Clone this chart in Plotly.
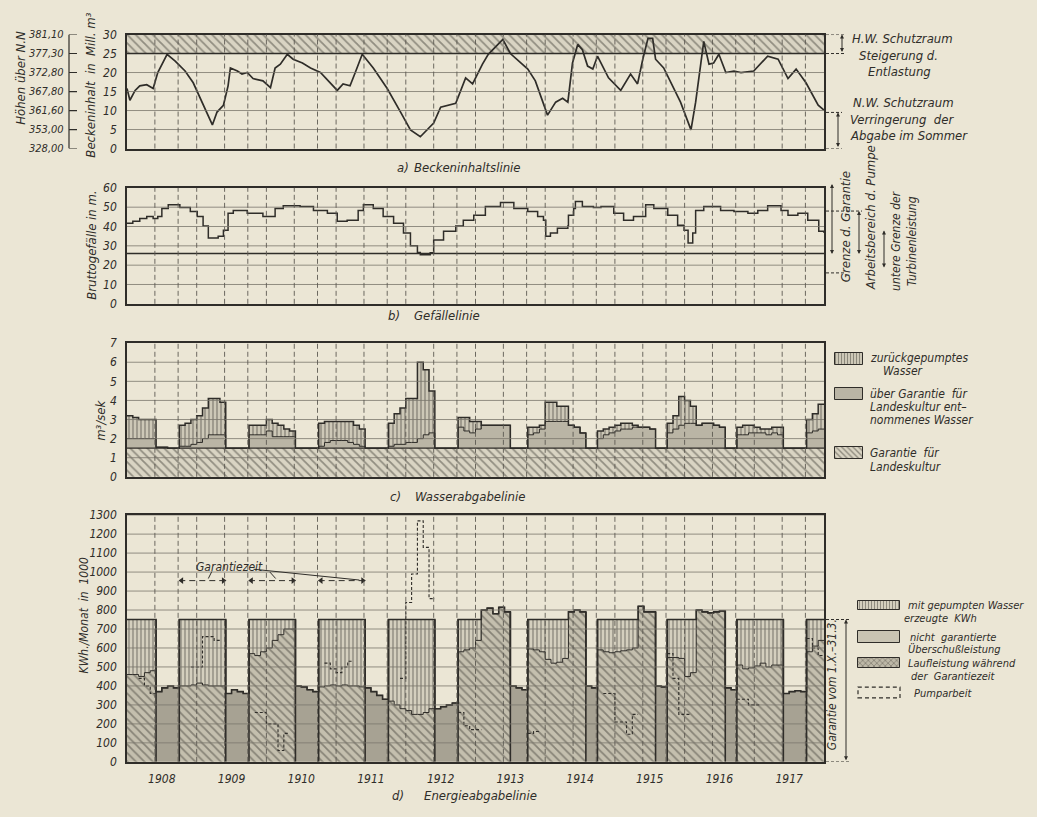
import plotly.graph_objects as go

W, H = 1037, 817
PAPER = "#ebe6d5"
INK = "#2f2d29"
GRID = "#7a766c"
FILL_GRAU = "#bab5a5"
FILL_DUNKEL = "#a7a293"
FILL_HELL = "#d9d4c3"
FAM = "DejaVu Sans Condensed"


def fnt(size=12, color=INK):
    return dict(family=FAM, size=size, color=color, style="italic")


def px(x):
    return x / W


def py(y):
    return 1 - y / H


# ---------------- Zeitachse ----------------
jahre = ["1908", "1909", "1910", "1911", "1912", "1913", "1914", "1915", "1916", "1917"]
jahr_mitte = [6, 18, 30, 42, 54, 66, 78, 90, 102, 114]
n_monate = 120

# ---------------- a) Beckeninhaltslinie ----------------
becken_monat = [0, 0.5, 1.4, 2.2, 3.4, 4.5, 5.3, 6.9, 8.3, 10, 11.4, 12.9, 14.7, 15.5, 16.6,
                17.4, 17.8, 19, 19.8, 20.7, 21.7, 23.4, 24.7, 25.5, 26.4, 27.6, 28.6, 30.2, 31.6,
                33.3, 35, 36.2, 37.2, 38.4, 39.3, 40.5, 42.4, 44.8, 47.1, 48.8, 50.5, 52.8, 54,
                55.3, 56.6, 58.3, 59.5, 61.2, 62.2, 64.7, 66, 69, 70.3, 72.4, 73.8, 75, 75.9,
                76.7, 77.6, 78.4, 79.3, 80.2, 81, 82.9, 85, 86.7, 87.9, 88.8, 89.7, 90.5, 91,
                92.4, 95.3, 97.1, 97.9, 98.8, 99.3, 100.2, 101, 101.9, 103.1, 104.5, 105.7,
                107.9, 110.3, 112.1, 113.8, 115.2, 116.9, 119, 120]
becken_inhalt = [15.8, 12.7, 15.3, 16.5, 16.8, 15.8, 20, 24.8, 23, 20.4, 17.3, 12.2, 6.2, 9.6,
                 11.4, 16.5, 21.2, 20.4, 19.6, 20, 18.4, 17.8, 16, 21.2, 22.2, 24.8, 23.5, 22.5,
                 21.2, 20, 17.3, 15.3, 17, 16.5, 20, 24.8, 21.2, 15.8, 9.6, 4.9, 3.1, 6.7, 10.9,
                 11.4, 11.9, 18.6, 17, 22.2, 24.8, 28.7, 25, 20.9, 17.8, 8.8, 12.2, 13.2, 12.2,
                 22.5, 27.4, 26, 21.7, 20.9, 24.3, 18.6, 15.3, 19.6, 17, 23.5, 29, 29, 23.5,
                 21.2, 12.2, 4.9, 12.2, 22.5, 28.2, 22.2, 22.5, 24.8, 20, 20.4, 20, 20.4, 24.3,
                 23.5, 18.4, 20.9, 17.3, 11.4, 10.1]
becken_ticks = [0, 5, 10, 15, 20, 25, 30]
hoehen_nn = ["328,00", "353,00", "361,60", "367,80", "372,80", "377,30", "381,10"]
hw_schutzraum = [25, 30]
nw_schutzraum = [0, 9.5]

# ---------------- b) Gefällelinie ----------------
gefaelle_monat = [0, 1.0, 2.2, 3.4, 4.5, 5.3, 6.0, 7.1, 9.1, 10.9, 12.1, 13.1, 14.0, 15.7, 16.6,
                  17.4, 18.3, 20.7, 23.4, 24.7, 25.5, 26.9, 28.4, 29.8, 32.1, 34.5, 36.2, 37.9,
                  39.8, 40.7, 42.4, 44.1, 45.9, 47.6, 48.8, 50, 50.5, 52.2, 52.8, 54.5, 56.6,
                  57.9, 59.7, 61.7, 64.3, 66.6, 69, 70.7, 71.7, 72.1, 72.9, 74.1, 75.9, 76,
                  76.9, 77.2, 78.4, 80.3, 81.6, 83.8, 85.5, 87.2, 89.3, 90.7, 93.1, 94.8, 95.9,
                  96.6, 97.4, 97.9, 99.3, 102.2, 104.5, 106.9, 108.6, 110.3, 112.6, 113.8,
                  115.5, 117.2, 119.1, 120]
gefaelle_m = [41.7, 42.7, 44.2, 45.2, 44.2, 45.2, 49.3, 51.3, 49.8, 47.8, 45.2, 40.2, 34, 35,
              38.1, 46.8, 48.3, 46.8, 45.2, 45.2, 49.3, 50.8, 50.8, 50.3, 48.3, 46.8, 42.7,
              43.2, 48.3, 51.3, 49.3, 45.2, 41.7, 36.6, 30, 26.5, 25.4, 26.4, 33, 37.6, 40.2,
              43.2, 45.8, 50.3, 52.4, 49.3, 47.8, 45.2, 43.2, 35, 36.6, 39.1, 40.2, 45.8, 49.3,
              52.9, 50.3, 49.8, 50.3, 46.8, 43.2, 45.2, 51.3, 49.3, 45.8, 40.7, 38.1, 31.5,
              36.6, 48.3, 50.3, 48.3, 47.8, 46.8, 48.3, 50.8, 48.3, 45.8, 46.8, 43.2, 37.6,
              36.6]
gefaelle_ticks = [0, 10, 20, 30, 40, 50, 60]
turbinen_grenze = 26

# ---------------- c) Wasserabgabelinie (m³/sek, monatlich) ----------------
wasser_garantie = 1.5
wasser_gesamt = ([3.2, 3.1, 3.0, 3.0, 3.0] + [1.55, 1.55, 1.5, 1.5]
                 + [2.7, 2.8, 3.0, 3.2, 3.6, 4.1, 4.1, 3.9] + [1.5] * 4
                 + [2.7, 2.7, 2.7, 3.0, 2.8, 2.7, 2.5, 2.4] + [1.5] * 4
                 + [2.8, 2.9, 2.9, 2.9, 2.9, 2.9, 2.7, 2.5] + [1.5] * 4
                 + [2.8, 3.3, 3.6, 4.1, 4.1, 6.0, 5.6, 4.5] + [1.5] * 4
                 + [3.1, 3.1, 2.9, 2.9, 2.7, 2.7, 2.7, 2.7, 2.7] + [1.5] * 3
                 + [2.6, 2.6, 2.7, 3.9, 3.9, 3.7, 3.7, 2.7, 2.6, 2.3] + [1.5] * 2
                 + [2.4, 2.5, 2.6, 2.7, 2.8, 2.8, 2.7, 2.6, 2.6, 2.5] + [1.5] * 2
                 + [2.8, 3.2, 4.2, 4.0, 3.7, 2.7, 2.8, 2.8, 2.7, 2.6] + [1.5] * 2
                 + [2.6, 2.7, 2.7, 2.6, 2.5, 2.5, 2.6, 2.6] + [1.5] * 4
                 + [3.0, 3.3, 3.8])
wasser_ueber = ([2.0, 2.0, 2.0, 2.0, 2.0] + [1.55, 1.55, 1.5, 1.5]
                + [1.6, 1.6, 1.7, 1.8, 2.0, 2.2, 2.2, 2.2] + [1.5] * 4
                + [2.2, 2.2, 2.2, 2.4, 2.1, 2.1, 2.1, 2.1] + [1.5] * 4
                + [1.6, 1.8, 1.9, 1.9, 1.9, 1.8, 1.7, 1.6] + [1.5] * 4
                + [1.6, 1.7, 1.7, 1.8, 1.8, 2.0, 2.2, 2.3] + [1.5] * 4
                + [2.6, 2.4, 2.3, 2.5, 2.7, 2.7, 2.7, 2.7, 2.7] + [1.5] * 3
                + [2.2, 2.3, 2.5, 2.9, 2.9, 2.9, 2.9, 2.7, 2.6, 2.3] + [1.5] * 2
                + [2.0, 2.2, 2.3, 2.4, 2.5, 2.5, 2.6, 2.6, 2.6, 2.5] + [1.5] * 2
                + [2.3, 2.5, 2.7, 2.8, 2.8, 2.7, 2.8, 2.8, 2.7, 2.6] + [1.5] * 2
                + [2.2, 2.2, 2.3, 2.3, 2.3, 2.2, 2.3, 2.2] + [1.5] * 4
                + [2.3, 2.4, 2.5])
wasser_ticks = [0, 1, 2, 3, 4, 5, 6, 7]

# ---------------- d) Energieabgabelinie (1000 KWh/Monat) ----------------
garantie_zeit = [(0, 5), (9, 17), (21, 29), (33, 41), (45, 53), (57, 66), (69, 79),
                 (81, 91), (93, 103), (105, 113), (117, 120)]
garantie_kwh = 750
energie_lauf = ([460, 460, 450, 470, 480] + [370, 390, 400, 390]
                + [400, 400, 405, 415, 405, 400, 400, 400] + [360, 380, 370, 360]
                + [570, 560, 580, 600, 640, 670, 700, 700] + [400, 395, 380, 370]
                + [395, 400, 405, 400, 405, 400, 400, 395] + [390, 370, 350, 330]
                + [320, 300, 280, 270, 250, 250, 260, 280] + [280, 290, 300, 310]
                + [580, 590, 600, 640, 800, 810, 780, 815, 790] + [400, 390, 380]
                + [595, 590, 580, 540, 520, 525, 545, 790, 800, 790] + [400, 390]
                + [590, 580, 575, 580, 585, 590, 600, 820, 790, 790] + [400, 395]
                + [550, 550, 545, 450, 470, 800, 790, 785, 790, 795] + [390, 380]
                + [510, 490, 495, 505, 520, 500, 510, 510] + [360, 370, 375, 370]
                + [580, 610, 640])
pump_monat = [2, 3, 4, 11, 12, 13, 14, 15, 22, 23, 24, 25, 26, 27, 34, 35, 36, 37, 38,
              47, 48, 49, 50, 51, 52, 57, 58, 59, 60, 69, 70, 82, 83, 84, 85, 86, 87,
              93, 94, 95, 96, 105, 106, 107, 108, 117, 118, 119]
pump_kwh = [440, 400, 360, 500, 500, 660, 660, 640, 260, 260, 200, 200, 60, 150, 520, 490,
            470, 500, 530, 440, 840, 990, 1270, 1130, 860, 260, 190, 170, 170, 150, 160,
            360, 360, 210, 210, 145, 250, 570, 440, 250, 250, 330, 330, 300, 300, 650, 600,
            560]
energie_ticks = list(range(0, 1400, 100))

# ---------------- helpers ----------------
monate = list(range(n_monate))
im_block = [any(s <= m < e for s, e in garantie_zeit) for m in monate]


def stufe(werte):
    return monate + [n_monate], list(werte) + [werte[-1]]


def segmente(ms, vs):
    xs, ys = [], []
    for i, (m, v) in enumerate(zip(ms, vs)):
        if i > 0 and m != ms[i - 1] + 1:
            xs.append(ms[i - 1] + 1)
            ys.append(vs[i - 1])
            xs.append(None)
            ys.append(None)
        xs.append(m)
        ys.append(v)
    xs.append(ms[-1] + 1)
    ys.append(vs[-1])
    return xs, ys


def hatch(shape, bg, fg="#4a4740", size=5, sol=0.28):
    return dict(color=bg, pattern=dict(shape=shape, fgcolor=fg, size=size, solidity=sol),
                line=dict(width=0))


traces = []

# ---- a ----
traces.append(go.Bar(x=[n_monate / 2], y=[hw_schutzraum[1] - hw_schutzraum[0]],
                     base=[hw_schutzraum[0]], width=[n_monate], xaxis="x", yaxis="y",
                     marker=hatch("\\", FILL_HELL, size=6, sol=0.3)))
traces.append(go.Scatter(x=becken_monat, y=becken_inhalt, mode="lines", xaxis="x", yaxis="y",
                         line=dict(color=INK, width=1.7)))

# ---- b ----
traces.append(go.Scatter(x=gefaelle_monat, y=gefaelle_m, mode="lines", line_shape="hv",
                         xaxis="x2", yaxis="y2", line=dict(color=INK, width=1.5)))

# ---- c ----
traces.append(go.Bar(x=[n_monate / 2], y=[wasser_garantie], base=[0], width=[n_monate],
                     xaxis="x3", yaxis="y3", marker=hatch("\\", FILL_HELL, size=6, sol=0.3)))
ux = [m + 0.5 for m in monate if wasser_ueber[m] > wasser_garantie + 0.06]
uy = [wasser_ueber[m] - wasser_garantie for m in monate if wasser_ueber[m] > wasser_garantie + 0.06]
traces.append(go.Bar(x=ux, y=uy, base=[wasser_garantie] * len(ux), width=1, xaxis="x3",
                     yaxis="y3", marker=dict(color=FILL_GRAU, line=dict(width=0))))
gx = [m + 0.5 for m in monate if wasser_gesamt[m] > wasser_ueber[m]]
gy = [wasser_gesamt[m] - wasser_ueber[m] for m in monate if wasser_gesamt[m] > wasser_ueber[m]]
gb = [wasser_ueber[m] for m in monate if wasser_gesamt[m] > wasser_ueber[m]]
traces.append(go.Bar(x=gx, y=gy, base=gb, width=1, xaxis="x3", yaxis="y3",
                     marker=hatch("|", "#cdc8b7", size=4, sol=0.35)))
sx, sy = stufe(wasser_ueber)
traces.append(go.Scatter(x=sx, y=sy, mode="lines", line_shape="hv", xaxis="x3", yaxis="y3",
                         line=dict(color=INK, width=1)))
sx, sy = stufe(wasser_gesamt)
traces.append(go.Scatter(x=sx, y=sy, mode="lines", line_shape="hv", xaxis="x3", yaxis="y3",
                         line=dict(color=INK, width=1.5)))

# ---- d ----
bx = [m + 0.5 for m in monate if im_block[m]]
by = [energie_lauf[m] for m in monate if im_block[m]]
traces.append(go.Bar(x=bx, y=by, base=[0] * len(bx), width=1, xaxis="x4", yaxis="y4",
                     marker=hatch("\\", "#c4bfae", size=6, sol=0.3)))
sxm = [m + 0.5 for m in monate if not im_block[m]]
sym = [energie_lauf[m] for m in monate if not im_block[m]]
traces.append(go.Bar(x=sxm, y=sym, base=[0] * len(sxm), width=1, xaxis="x4", yaxis="y4",
                     marker=dict(color=FILL_DUNKEL, line=dict(width=0))))
px_ = [m + 0.5 for m in monate if im_block[m] and energie_lauf[m] < garantie_kwh]
py_ = [garantie_kwh - energie_lauf[m] for m in monate if im_block[m] and energie_lauf[m] < garantie_kwh]
pb_ = [energie_lauf[m] for m in monate if im_block[m] and energie_lauf[m] < garantie_kwh]
traces.append(go.Bar(x=px_, y=py_, base=pb_, width=1, xaxis="x4", yaxis="y4",
                     marker=hatch("|", "#d4cfbe", size=4, sol=0.35)))
oben = [max(garantie_kwh, energie_lauf[m]) if im_block[m] else energie_lauf[m] for m in monate]
sx, sy = stufe(energie_lauf)
traces.append(go.Scatter(x=sx, y=sy, mode="lines", line_shape="hv", xaxis="x4", yaxis="y4",
                         line=dict(color=INK, width=1)))
sx, sy = stufe(oben)
traces.append(go.Scatter(x=sx, y=sy, mode="lines", line_shape="hv", xaxis="x4", yaxis="y4",
                         line=dict(color=INK, width=1.6)))
kx, ky = [], []
for s, e in garantie_zeit:
    if s > 0:
        kx += [s, s, None]
        ky += [0, oben[s], None]
    if e < n_monate:
        kx += [e, e, None]
        ky += [0, oben[e - 1], None]
traces.append(go.Scatter(x=kx, y=ky, mode="lines", xaxis="x4", yaxis="y4",
                         line=dict(color=INK, width=1.6)))
qx, qy = segmente(pump_monat, pump_kwh)
traces.append(go.Scatter(x=qx, y=qy, mode="lines", line_shape="hv", xaxis="x4", yaxis="y4",
                         line=dict(color=INK, width=1.1, dash="3px,2px")))
# Garantiezeit pfeile
ax_, ay_ = [], []
for s, e in garantie_zeit[1:4]:
    ax_ += [s, e, None]
    ay_ += [955, 955, None]
traces.append(go.Scatter(x=ax_, y=ay_, mode="lines", xaxis="x4", yaxis="y4",
                         line=dict(color=INK, width=1, dash="6px,4px")))
ex, ey, es = [], [], []
for s, e in garantie_zeit[1:4]:
    ex += [s + 0.4, e - 0.4]
    ey += [955, 955]
    es += ["triangle-left", "triangle-right"]
traces.append(go.Scatter(x=ex, y=ey, mode="markers", xaxis="x4", yaxis="y4",
                         marker=dict(symbol=es, size=6, color=INK)))

# ---- legend swatches (overlay axis in pixel units) ----
swatches = [
    (835, 863, 352, 364, "|", "#cdc8b7"),
    (835, 863, 388, 400, "", FILL_GRAU),
    (835, 863, 448, 460, "\\", FILL_HELL),
    (858, 900, 604, 614, "|", "#d4cfbe"),
    (858, 900, 635, 647, "", "#c9c4b3"),
    (858, 900, 662, 673, "x", "#bdb8a7"),
]
for x0, x1, y0, y1, shp, col in swatches:
    mk = dict(color=col, line=dict(width=1, color=INK))
    if shp:
        mk["pattern"] = dict(shape=shp, fgcolor="#4a4740", size=3 if shp == "|" else 4, solidity=0.35)
    traces.append(go.Bar(x=[(x0 + x1) / 2], y=[y1 - y0], base=[y0], width=[x1 - x0],
                         xaxis="x5", yaxis="y5", marker=mk))

fig = go.Figure(traces)

XD = [127 / W, 824 / W]
YA = [py(144), py(28)]
YB = [py(302), py(184)]
YC = [py(478), py(342)]
YD = [py(768), py(517)]

axis_common = dict(showgrid=False, zeroline=False, showline=True, mirror=True,
                   linecolor=INK, linewidth=1.5, ticks="")


def xax(anchor, labels=False):
    d = dict(domain=XD, range=[0, n_monate], anchor=anchor, **axis_common)
    if labels:
        d.update(tickvals=jahr_mitte, ticktext=jahre, tickfont=fnt(12), ticklabelstandoff=5)
    else:
        d.update(showticklabels=False)
    return d


def yax(anchor, dom, rng, tv):
    return dict(domain=dom, range=rng, anchor=anchor, tickvals=tv, tickfont=fnt(12),
                ticklabelstandoff=6, **axis_common)


fig.update_layout(
    width=W, height=H, margin=dict(l=0, r=0, t=0, b=0),
    paper_bgcolor=PAPER, plot_bgcolor="rgba(0,0,0,0)",
    showlegend=False, barmode="overlay", bargap=0,
    xaxis=xax("y"), yaxis=yax("x", YA, [0, 30], becken_ticks),
    xaxis2=xax("y2"), yaxis2=yax("x2", YB, [0, 60], gefaelle_ticks),
    xaxis3=xax("y3"), yaxis3=yax("x3", YC, [0, 7], wasser_ticks),
    xaxis4=xax("y4", True), yaxis4=yax("x4", YD, [0, 1300], energie_ticks),
    xaxis5=dict(domain=[0, 1], range=[0, W], anchor="y5", visible=False),
    yaxis5=dict(domain=[0, 1], range=[H, 0], anchor="x5", visible=False),
)

shapes = []
# horizontal grid lines above traces
grids = [("y", "x", becken_ticks[1:-1]), ("y2", "x2", gefaelle_ticks[1:-1]),
         ("y3", "x3", wasser_ticks[1:-1]), ("y4", "x4", energie_ticks[1:])]
for yr, xr, vals in grids:
    for v in vals:
        shapes.append(dict(type="line", xref=xr, yref=yr, x0=0, x1=n_monate, y0=v, y1=v,
                           layer="above", line=dict(color=GRID, width=0.8)))
shapes.append(dict(type="line", xref="x", yref="y", x0=0, x1=n_monate, y0=hw_schutzraum[0],
                   y1=hw_schutzraum[0], layer="above", line=dict(color=INK, width=1.5)))
shapes.append(dict(type="line", xref="x2", yref="y2", x0=0, x1=n_monate, y0=turbinen_grenze,
                   y1=turbinen_grenze, layer="above", line=dict(color=INK, width=1.5)))
shapes.append(dict(type="line", xref="x3", yref="y3", x0=0, x1=n_monate, y0=wasser_garantie,
                   y1=wasser_garantie, layer="above", line=dict(color=INK, width=1.3)))
# vertical dashed lines
vlin = sorted(12 * k + o for k in range(10) for o in (0, 4.8, 8.8) if 0 < 12 * k + o < n_monate)
for n in ["", "2", "3", "4"]:
    for v in vlin:
        shapes.append(dict(type="line", xref="x" + n, yref=f"y{n} domain", x0=v, x1=v, y0=0,
                           y1=1, layer="above",
                           line=dict(color="#5e5a52", width=0.9, dash="5px,3px")))
# Höhen scale
shapes.append(dict(type="line", xref="paper", yref="y", x0=px(69), x1=px(69), y0=0, y1=30,
                   line=dict(color=INK, width=1.2)))
for v in becken_ticks:
    shapes.append(dict(type="line", xref="paper", yref="y", x0=px(69), x1=px(77), y0=v, y1=v,
                       line=dict(color=INK, width=1.2)))
# right side dashed leaders
dash_leaders = [("y", hw_schutzraum[1], 826, 846), ("y", hw_schutzraum[0], 826, 846),
                ("y", nw_schutzraum[1], 826, 842), ("y", nw_schutzraum[0], 826, 842),
                ("y2", 48, 826, 862), ("y2", 16, 826, 845),
                ("y4", garantie_kwh, 826, 850), ("y4", 0, 826, 850)]
for yr, v, a, b in dash_leaders:
    shapes.append(dict(type="line", xref="paper", yref=yr, x0=px(a), x1=px(b), y0=v, y1=v,
                       line=dict(color=INK, width=1, dash="3px,2px")))
# Garantiezeit leaders
for x0, y0, x1, y1 in [(21.8, 1015, 40, 958), (14.6, 1003, 14.0, 966), (24.6, 1000, 25.6, 966)]:
    shapes.append(dict(type="line", xref="x4", yref="y4", x0=x0, y0=y0, x1=x1, y1=y1,
                       line=dict(color=INK, width=1)))
# Pumparbeit legend swatch
shapes.append(dict(type="rect", xref="paper", yref="paper", x0=px(858), x1=px(900), y0=py(703),
                   y1=py(692), line=dict(color=INK, width=1.2, dash="4px,3px")))
fig.update_layout(shapes=shapes)

ann = []


def txt(x, y, t, size=12, xanchor="left", yref="paper", angle=0, xref="paper"):
    ann.append(dict(x=x, y=y, xref=xref, yref=yref, text=t, showarrow=False, xanchor=xanchor,
                    yanchor="middle", font=fnt(size), textangle=angle))


def pfeil(xp, yr, v0, v1):
    ann.append(dict(x=px(xp), y=v0, xref="paper", yref=yr, ax=0, ay=v1, axref="pixel",
                    ayref=yr, text="", showarrow=True, arrowhead=2, arrowside="end+start",
                    arrowsize=0.8, arrowwidth=1, arrowcolor=INK))


# panel titles
txt(px(395), py(163), "a)", 13)
txt(px(412), py(163), "Beckeninhaltslinie", 13)
txt(px(386), py(314), "b)", 13)
txt(px(412), py(314), "Gefällelinie", 13)
txt(px(388), py(498), "c)", 13)
txt(px(413), py(498), "Wasserabgabelinie", 13)
txt(px(390), py(802), "d)", 13)
txt(px(422), py(802), "Energieabgabelinie", 13)
# y titles
txt(px(21), py(72), "Höhen über N.N", 13, "center", angle=-90)
txt(px(91), py(80), "Beckeninhalt  in  Mill. m³", 13, "center", angle=-90)
txt(px(92), py(243), "Bruttogefälle in m.", 13, "center", angle=-90)
txt(px(101), py(421), "m³/sek", 13, "center", angle=-90)
txt(px(84), py(619), "KWh./Monat  in  1000", 12, "center", angle=-90)
# Höhen labels
for v, t in zip(becken_ticks, hoehen_nn):
    txt(px(66), v, t, 11, "right", yref="y")
# right texts panel a
txt(px(850), py(32), "H.W. Schutzraum", 13)
txt(px(898), py(49), "Steigerung d.", 13, "center")
txt(px(899), py(66), "Entlastung", 13, "center")
txt(px(851), py(97), "N.W. Schutzraum", 13)
txt(px(848), py(114), "Verringerung  der", 13)
txt(px(848), py(131), "Abgabe im Sommer", 13)
pfeil(842, "y", hw_schutzraum[1], hw_schutzraum[0])
pfeil(838, "y", nw_schutzraum[1], nw_schutzraum[0])
# right texts panel b
txt(px(845), py(224), "Grenze d. Garantie", 13, "center", angle=-90)
txt(px(870), py(215), "Arbeitsbereich d. Pumpe", 13, "center", angle=-90)
txt(px(904), py(238), "untere Grenze der<br>Turbinenleistung", 12, "center", angle=-90)
pfeil(832, "y2", 62, 25)
pfeil(859, "y2", 48, 25)
pfeil(884, "y2", 38, 18)
# legend c
txt(px(868), py(357), "zurückgepumptes", 12)
txt(px(903), py(370), "Wasser", 12, "center")
txt(px(868), py(394), "über Garantie  für", 12)
txt(px(868), py(407), "Landeskultur ent–", 12)
txt(px(868), py(420), "nommenes Wasser", 12)
txt(px(868), py(454), "Garantie  für", 12)
txt(px(868), py(468), "Landeskultur", 12)
# legend d
txt(px(906), py(609), "mit gepumpten Wasser", 11)
txt(px(940), py(622), "erzeugte  KWh", 11, "center")
txt(px(908), py(641), "nicht  garantierte", 11)
txt(px(906), py(654), "Überschußleistung", 11)
txt(px(906), py(668), "Laufleistung während", 11)
txt(px(953), py(681), "der  Garantiezeit", 11, "center")
txt(px(912), py(698), "Pumparbeit", 11)
# Garantie bracket panel d
txt(px(832), py(690), "Garantie vom 1.X.–31.3.", 12, "center", angle=-90)
pfeil(846, "y4", garantie_kwh, 0)
# Garantiezeit label
txt(17.6, 1025, "Garantiezeit", 12, "center", yref="y4", xref="x4")

fig.update_layout(annotations=ann)

fig.write_html("out.html", config={"displayModeBar": False},
               post_script="document.body.style.margin='0';")
